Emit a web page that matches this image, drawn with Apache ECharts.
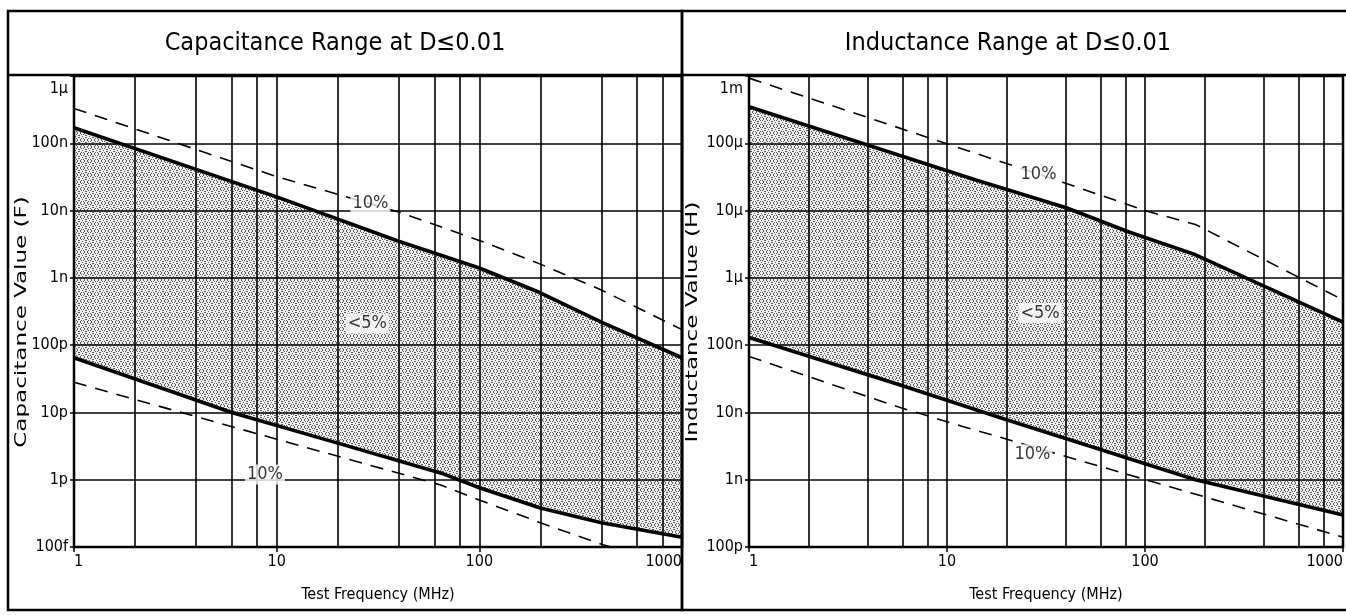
<!DOCTYPE html>
<html><head><meta charset="utf-8">
<script src="https://cdn.jsdelivr.net/npm/echarts@6/dist/echarts.min.js"></script>
<style>html,body{margin:0;padding:0;background:#fff}#c{width:1346px;height:615px}</style>
</head><body><div id="c"></div>
<script>
const FONT = "'DejaVu Sans Condensed','Liberation Sans Narrow','DejaVu Sans Mono',monospace";

// ---- data ----
const gridFreqs = [2, 4, 6, 8, 20, 40, 60, 80, 200, 400, 600, 800];
const xTickLabels = ['1', '10', '100', '1000'];
const capDecades = [1e-13, 1e-12, 1e-11, 1e-10, 1e-9, 1e-8, 1e-7, 1e-6];
const capTickLabels = ['100f', '1p', '10p', '100p', '1n', '10n', '100n', '1\u03bc'];
const indDecades = [1e-10, 1e-9, 1e-8, 1e-7, 1e-6, 1e-5, 1e-4, 1e-3];
const indTickLabels = ['100p', '1n', '10n', '100n', '1\u03bc', '10\u03bc', '100\u03bc', '1m'];

// Capacitance (F) vs frequency (MHz)
const capUpper = [[1, 1.7e-7], [10, 1.6e-8], [40, 3.5e-9], [100, 1.4e-9], [200, 6e-10], [400, 2.2e-10], [1000, 6.5e-11]];
const capUpperDash = [[1, 3.3e-7], [10, 3.2e-8], [40, 9.5e-9], [100, 3.6e-9], [200, 1.6e-9], [400, 6.6e-10], [1000, 1.7e-10]];
const capLower = [[1, 6.5e-11], [6, 1e-11], [20, 3.5e-12], [65, 1.25e-12], [100, 7.6e-13], [200, 3.8e-13], [400, 2.3e-13], [1000, 1.4e-13]];
const capLowerDash = [[1, 2.8e-11], [10, 4e-12], [65, 8.3e-13], [100, 5e-13], [200, 2.3e-13], [400, 1.1e-13], [1000, 5e-14]];
const capNotes = [['10%', 29, 1.3e-8], ['<5%', 28, 2.1e-10], ['10%', 8.75, 1.2e-12]];

// Inductance (H) vs frequency (MHz)
const indUpper = [[1, 3.5e-4], [14, 2.85e-5], [40, 1.1e-5], [83, 4.8e-6], [180, 2.2e-6], [1000, 2.2e-7]];
const indUpperDash = [[1, 9.3e-4], [39, 2.6e-5], [100, 1.0e-5], [180, 6.2e-6], [1000, 4.7e-7]];
const indLower = [[1, 1.3e-7], [5.7, 2.6e-8], [20, 7.8e-9], [180, 1e-9], [1000, 3e-10]];
const indLowerDash = [[1, 6.8e-8], [5.7, 1.2e-8], [12, 6.2e-9], [1000, 1.4e-10]];
const indNotes = [['10%', 29, 3.4e-5], ['<5%', 29.5, 3e-7], ['10%', 27, 2.4e-9]];

// ---- rendering ----
const chart = echarts.init(document.getElementById('c'), null, {renderer: 'canvas'});

function makePattern() {
  const n = 7;
  const c = document.createElement('canvas');
  c.width = n; c.height = n;
  const g = c.getContext('2d');
  g.fillStyle = '#f0f0f0'; g.fillRect(0, 0, n, n);
  g.fillStyle = '#575757';
  for (let x = 0; x < n; x++) for (let y = 0; y < n; y++) {
    if ((x * 3 + y * 2) % n === 0 || (x + y * 4) % n === 3) g.fillRect(x, y, 1, 1);
  }
  return c;
}
const pattern = {image: makePattern(), repeat: 'repeat'};

const grids = [
  {left: 74, top: 76, width: 608, height: 471},
  {left: 749, top: 76, width: 598, height: 471}
];

function xAxis(i) {
  return {
    gridIndex: i, type: 'log', logBase: 10, min: 1, max: 1000, z: 3,
    axisLine: {show: false},
    splitLine: {show: true, lineStyle: {color: '#000', width: 1.6}},
    axisTick: {show: true, length: 5, lineStyle: {color: '#000', width: 1.5}},
    axisLabel: {
      color: '#000', fontFamily: FONT, fontSize: 16, margin: 7,
      alignMinLabel: 'left', alignMaxLabel: 'right',
      formatter: v => xTickLabels[Math.round(Math.log10(v))]
    },
    name: 'Test Frequency (MHz)', nameLocation: 'middle', nameGap: 40,
    nameTextStyle: {color: '#000', fontFamily: FONT, fontSize: 16}
  };
}
function yAxis(i, decades, labels) {
  const top = labels.length - 1;
  return {
    gridIndex: i, type: 'log', logBase: 10, min: decades[0], max: decades[top], z: 3,
    axisLine: {show: false},
    splitLine: {show: true, lineStyle: {color: '#000', width: 1.6}},
    axisTick: {show: true, length: 4, lineStyle: {color: '#000', width: 1.5}},
    axisLabel: {
      color: '#000', fontFamily: FONT, fontSize: 16, margin: 6,
      formatter: v => {
        const k = Math.round(Math.log10(v / decades[0]));
        return k === top ? '{top|' + labels[k] + '}' : labels[k];
      },
      rich: {top: {fontFamily: FONT, fontSize: 16, color: '#000', padding: [26, 0, 0, 0]}}
    }
  };
}

function fillSeries(i, upper, lower) {
  return {
    type: 'custom', xAxisIndex: i, yAxisIndex: i, z: 1, silent: true,
    data: [[upper[0][0], upper[0][1]]],
    renderItem: (params, api) => {
      const pts = upper.map(p => api.coord(p)).concat(lower.slice().reverse().map(p => api.coord(p)));
      return {type: 'polygon', shape: {points: pts}, style: {fill: pattern}};
    }
  };
}
function gridSeries(i) {
  return {
    type: 'line', xAxisIndex: i, yAxisIndex: i, z: 3, silent: true, data: [],
    markLine: {silent: true, symbol: 'none', animation: false, label: {show: false},
      lineStyle: {color: '#000', width: 1.6, type: 'solid'}, data: gridFreqs.map(f => ({xAxis: f}))}
  };
}
function curve(i, data, dashed) {
  return {
    type: 'line', xAxisIndex: i, yAxisIndex: i, z: 5, data: data, symbol: 'none', silent: true,
    clip: true, animation: false,
    lineStyle: dashed ? {color: '#000', width: 1.6, type: [13, 9]} : {color: '#000', width: 3.6}
  };
}
function notes(i, arr) {
  return {
    type: 'scatter', xAxisIndex: i, yAxisIndex: i, z: 8, symbolSize: 0, silent: true,
    data: arr.map(n => ({name: n[0], value: [n[1], n[2]]})),
    label: {show: true, position: 'inside', formatter: p => p.name, color: '#000',
      fontFamily: FONT, fontSize: 18, backgroundColor: '#fff', padding: [1, 2]}
  };
}
function vText(x, y, text) {
  return {type: 'text', z: 20, silent: true, x: x, y: y, rotation: Math.PI / 2, scaleX: 1.6,
    style: {text: text, fill: '#000', font: '16px ' + FONT, align: 'center', verticalAlign: 'middle'}};
}

const option = {
  backgroundColor: '#fff',
  animation: false,
  grid: grids.map(g => Object.assign({show: true, borderColor: '#000', borderWidth: 2.5, z: 10, backgroundColor: 'transparent'}, g)),
  xAxis: [xAxis(0), xAxis(1)],
  yAxis: [yAxis(0, capDecades, capTickLabels), yAxis(1, indDecades, indTickLabels)],
  series: [
    fillSeries(0, capUpper, capLower),
    gridSeries(0),
    curve(0, capUpper, false), curve(0, capLower, false),
    curve(0, capUpperDash, true), curve(0, capLowerDash, true),
    notes(0, capNotes),
    fillSeries(1, indUpper, indLower),
    gridSeries(1),
    curve(1, indUpper, false), curve(1, indLower, false),
    curve(1, indUpperDash, true), curve(1, indLowerDash, true),
    notes(1, indNotes)
  ],
  graphic: [
    {type: 'rect', z: 20, silent: true, shape: {x: 8, y: 11, width: 674, height: 599}, style: {fill: null, stroke: '#000', lineWidth: 2.5}},
    {type: 'rect', z: 20, silent: true, shape: {x: 682, y: 11, width: 700, height: 599}, style: {fill: null, stroke: '#000', lineWidth: 2.5}},
    {type: 'line', z: 20, silent: true, shape: {x1: 8, y1: 75, x2: 1346, y2: 75}, style: {stroke: '#000', lineWidth: 2.5}},
    {type: 'text', z: 20, silent: true, x: 335, y: 43, style: {text: 'Capacitance Range at D\u22640.01', fill: '#000', font: '25px ' + FONT, align: 'center', verticalAlign: 'middle'}},
    {type: 'text', z: 20, silent: true, x: 1008, y: 43, style: {text: 'Inductance Range at D\u22640.01', fill: '#000', font: '25px ' + FONT, align: 'center', verticalAlign: 'middle'}},
    vText(22, 322, 'Capacitance Value (F)'),
    vText(693, 322, 'Inductance Value (H)')
  ]
};
chart.setOption(option);
</script>
</body></html>
